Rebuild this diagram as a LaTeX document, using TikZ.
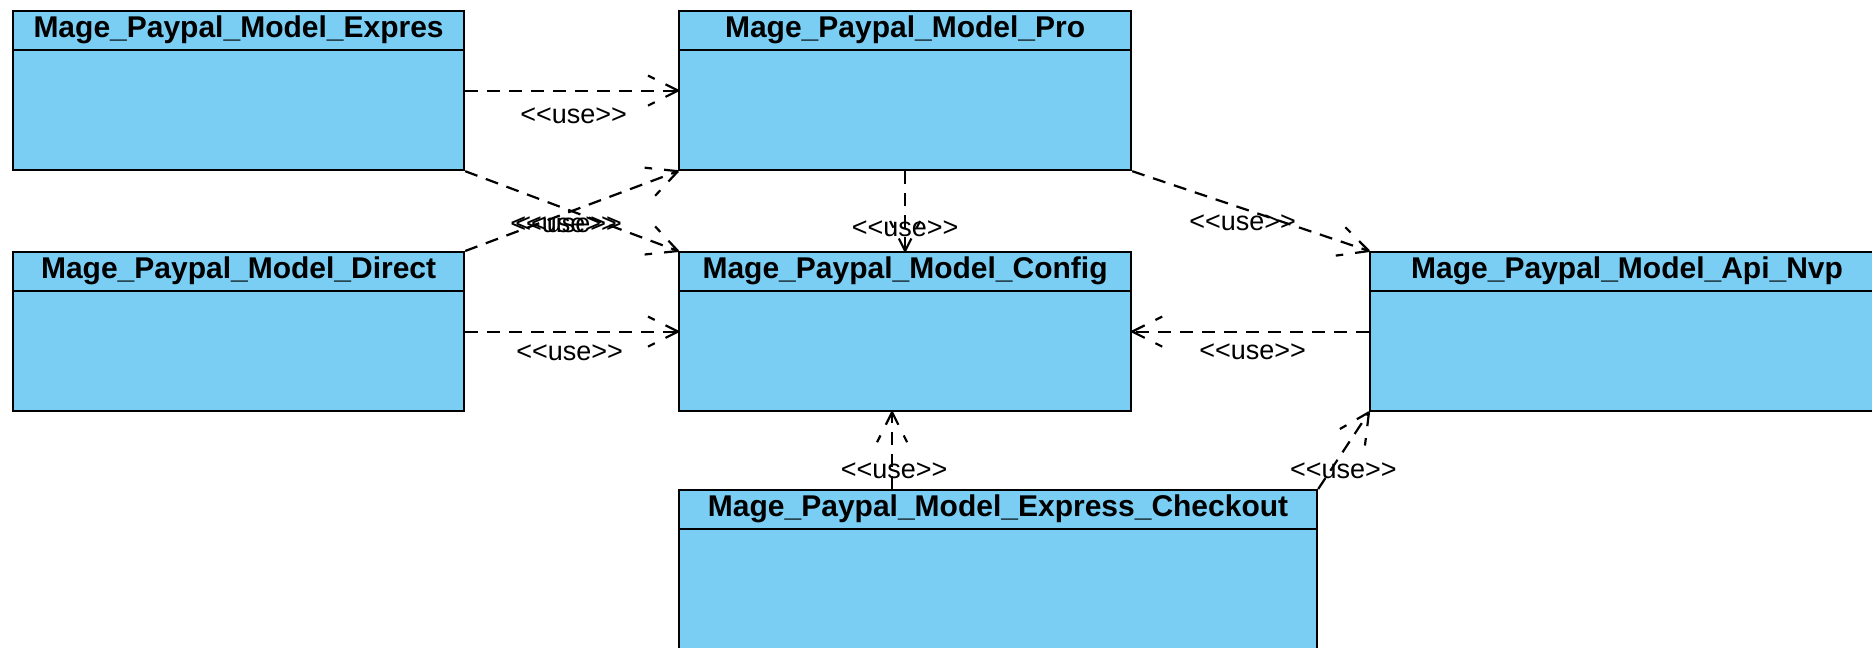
\documentclass[tikz,border=0pt]{standalone}
\usepackage{fontspec}
\setmainfont{Liberation Sans}
\usetikzlibrary{decorations.markings}
\definecolor{umlblue}{RGB}{122,206,244}

\begin{document}
\begin{tikzpicture}[
				x=1pt, y=-1pt,
				cls/.style={draw, fill=umlblue, line width=2.2pt, anchor=north west, minimum height=159pt, inner sep=0pt},
				ttl/.style={font=\fontsize{30}{36}\selectfont\bfseries, inner sep=0pt},
				sep/.style={line width=1.6pt},
				lbl/.style={font=\fontsize{27}{32}\selectfont, inner sep=0pt},
				uses/.style={draw, line width=2.2pt, dash pattern=on 13pt off 9pt,
					postaction={decorate, decoration={markings, mark=at position 1 with {
						\draw[line width=2.2pt, dash pattern=on 14pt off 12pt] (0,0) -- (-30,15) (0,0) -- (-30,-15);}}}}
				]
				\clip (0,0) rectangle (1872,648);
				\fill[white] (0,0) rectangle (1872,648);
				
				\node[cls, minimum width=451pt] (expres) at (12,10) {};
				\node[cls, minimum width=452pt] (pro) at (678,10) {};
				\node[cls, minimum width=451pt] (direct) at (12,251) {};
				\node[cls, minimum width=452pt] (config) at (678,251) {};
				\node[cls, minimum width=514pt] (api) at (1369,251) {};
				\node[cls, minimum width=638pt, minimum height=175pt] (ec) at (678,489) {};
				
				\foreach \c in {expres, pro, direct, config, api, ec}
				\draw[sep] ([yshift=-40pt]\c.north west) -- ([yshift=-40pt]\c.north east);
				
				\node[ttl] (expresT) at ([yshift=-20pt]expres.north) {Mage\_Paypal\_Model\_Expres};
				\node[ttl] (proT) at ([yshift=-20pt]pro.north) {Mage\_Paypal\_Model\_Pro};
				\node[ttl] (directT) at ([yshift=-20pt]direct.north) {Mage\_Paypal\_Model\_Direct};
				\node[ttl] (configT) at ([yshift=-20pt]config.north) {Mage\_Paypal\_Model\_Config};
				\node[ttl] (apiT) at ([yshift=-20pt]api.north) {Mage\_Paypal\_Model\_Api\_Nvp};
				\node[ttl] (ecT) at ([yshift=-20pt]ec.north) {Mage\_Paypal\_Model\_Express\_Checkout};
				
				\path[uses] (expres.east) -- (pro.west)
					node[lbl, midway, xshift=2pt, yshift=-25pt] {<{}<use>{}>};
				\path[uses] (expres.south east) -- (config.north west)
					node[lbl, midway, xshift=-8pt, yshift=-14pt] {<{}<use>{}>};
				\path[uses] (direct.north east) -- (pro.south west)
					node[lbl, midway, xshift=-3pt, yshift=-14pt] {<{}<use>{}>};
				\path[uses] (direct.east) -- (config.west)
					node[lbl, midway, xshift=-2pt, yshift=-21pt] {<{}<use>{}>};
				\path[uses] (pro.south) -- (config.north)
					node[lbl, pos=0.72] {<{}<use>{}>};
				\path[uses] (pro.south east) -- (api.north west)
					node[lbl, midway, xshift=-8pt, yshift=-12pt] {<{}<use>{}>};
				\path[uses] (api.west) -- (config.east)
					node[lbl, midway, xshift=2pt, yshift=-20pt] {<{}<use>{}>};
				\path[uses] ([xshift=-13pt]config.south |- ec.north) -- ([xshift=-13pt]config.south)
					node[lbl, pos=0.24, xshift=2pt] {<{}<use>{}>};
				\path[uses] (ec.north east) -- (api.south west)
					node[lbl, pos=0.24, xshift=13pt] {<{}<use>{}>};
			\end{tikzpicture}
\end{document}
